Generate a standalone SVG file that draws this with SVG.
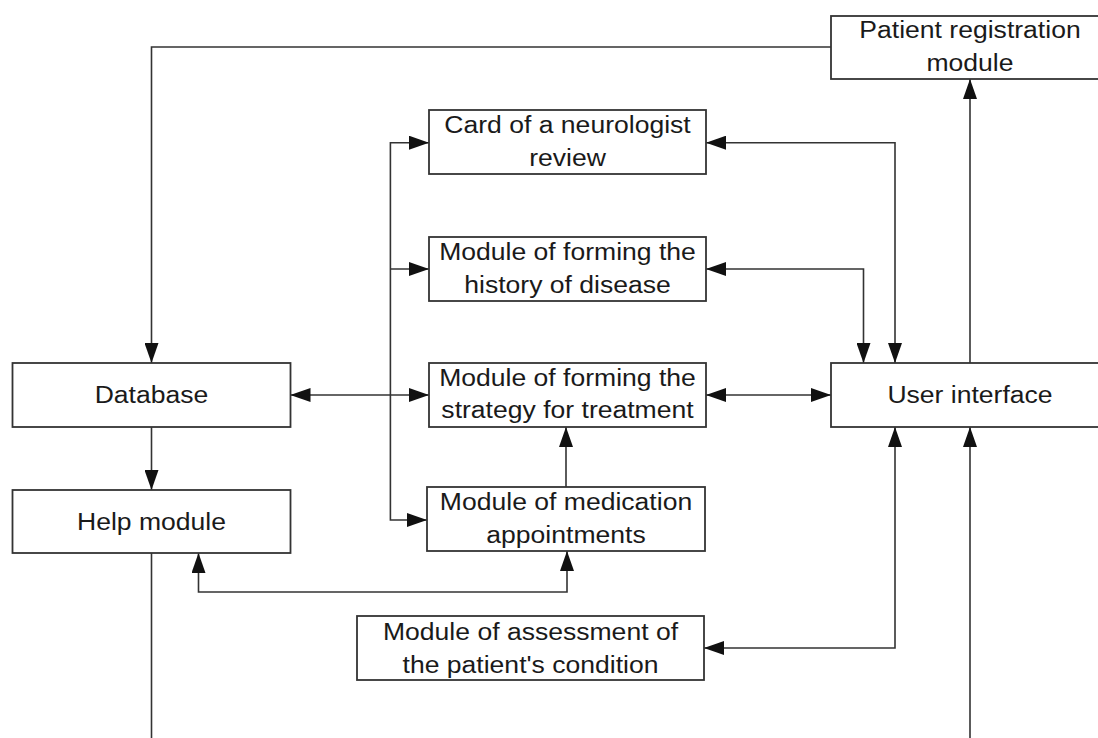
<svg xmlns="http://www.w3.org/2000/svg" width="1098" height="738" viewBox="0 0 1098 738">
<style>
.box{fill:#fff;stroke:#333;stroke-width:1.8}
.lbl{font-family:"Liberation Sans",Arial,sans-serif;font-size:23.5px;fill:#1a1a1a;text-anchor:middle}
.c{fill:none;stroke:#333;stroke-width:1.6}
</style>
<defs>
<marker id="ah" markerUnits="userSpaceOnUse" markerWidth="20" markerHeight="14" refX="20" refY="7" orient="auto-start-reverse">
<path d="M0,0 L20,7 L0,14 z" fill="#111"/>
</marker>
</defs>
<rect width="1098" height="738" fill="#fff"/>
<g id="connectors">
<path class="c" d="M831,47 H151.5 V363" marker-end="url(#ah)"/>
<path class="c" d="M970,363 V79" marker-end="url(#ah)"/>
<path class="c" d="M706,142.7 H895 V363" marker-start="url(#ah)" marker-end="url(#ah)"/>
<path class="c" d="M706,269 H863.5 V363" marker-start="url(#ah)" marker-end="url(#ah)"/>
<path class="c" d="M706,395 H831" marker-start="url(#ah)" marker-end="url(#ah)"/>
<path class="c" d="M290.5,395 H429" marker-start="url(#ah)" marker-end="url(#ah)"/>
<path class="c" d="M429,142.7 H390.4 V520 H427" marker-start="url(#ah)" marker-end="url(#ah)"/>
<path class="c" d="M390.4,269 H429" marker-end="url(#ah)"/>
<path class="c" d="M566,487 V427" marker-end="url(#ah)"/>
<path class="c" d="M198.5,553 V592 H567 V551" marker-start="url(#ah)" marker-end="url(#ah)"/>
<path class="c" d="M895,427 V648 H704" marker-start="url(#ah)" marker-end="url(#ah)"/>
<path class="c" d="M151.5,427 V490" marker-end="url(#ah)"/>
<path class="c" d="M151.5,553 V740"/>
<path class="c" d="M970,740 V427" marker-end="url(#ah)"/>
</g>
<g id="patient-registration">
<rect class="box" x="831" y="16" width="280" height="63"/>
<g transform="translate(970 0) scale(1.13 1)"><text class="lbl" x="0" y="38.5">Patient registration</text><text class="lbl" x="0" y="71.5">module</text></g>
</g>
<g id="card-review">
<rect class="box" x="429" y="110" width="277" height="64"/>
<g transform="translate(567.5 0) scale(1.13 1)"><text class="lbl" x="0" y="133.5">Card of a neurologist</text><text class="lbl" x="0" y="166.5">review</text></g>
</g>
<g id="history">
<rect class="box" x="429" y="237" width="277" height="64"/>
<g transform="translate(567.5 0) scale(1.13 1)"><text class="lbl" x="0" y="260.5">Module of forming the</text><text class="lbl" x="0" y="293.5">history of disease</text></g>
</g>
<g id="strategy">
<rect class="box" x="429" y="363" width="277" height="64"/>
<g transform="translate(567.5 0) scale(1.13 1)"><text class="lbl" x="0" y="386">Module of forming the</text><text class="lbl" x="0" y="418.5">strategy for treatment</text></g>
</g>
<g id="medication">
<rect class="box" x="427" y="487" width="278" height="64"/>
<g transform="translate(566 0) scale(1.13 1)"><text class="lbl" x="0" y="510.5">Module of medication</text><text class="lbl" x="0" y="543.5">appointments</text></g>
</g>
<g id="assessment">
<rect class="box" x="357" y="616" width="347" height="64"/>
<g transform="translate(530.5 0) scale(1.13 1)"><text class="lbl" x="0" y="640.5">Module of assessment of</text><text class="lbl" x="0" y="673.5">the patient's condition</text></g>
</g>
<g id="database">
<rect class="box" x="12.5" y="363" width="278" height="64"/>
<g transform="translate(151.5 0) scale(1.13 1)"><text class="lbl" x="0" y="403.5">Database</text></g>
</g>
<g id="help">
<rect class="box" x="12.5" y="490" width="278" height="63"/>
<g transform="translate(151.5 0) scale(1.13 1)"><text class="lbl" x="0" y="530">Help module</text></g>
</g>
<g id="user-interface">
<rect class="box" x="831" y="363" width="280" height="64"/>
<g transform="translate(970 0) scale(1.13 1)"><text class="lbl" x="0" y="403.5">User interface</text></g>
</g>
</svg>
